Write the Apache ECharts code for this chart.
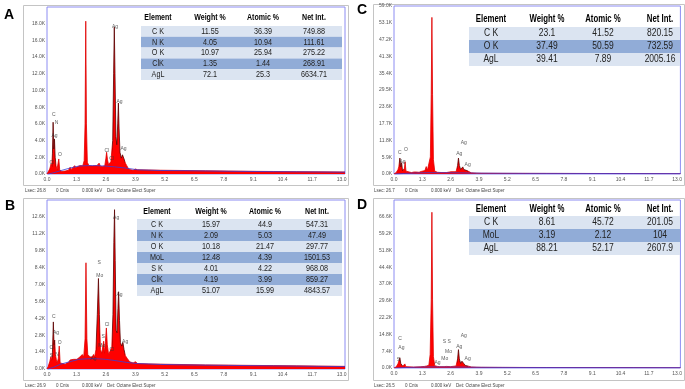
<!DOCTYPE html>
<html>
<head>
<meta charset="utf-8">
<script src="https://cdn.jsdelivr.net/npm/echarts@6/dist/echarts.min.js"></script>
<style>
html,body{margin:0;padding:0;background:#fff;}
#main{width:685px;height:389px;}
</style>
</head>
<body>
<div id="main"></div>
<script>
// EDS spectra, [keV, counts in K]
var spectrumA = [[0,0],[0.05,0.2],[0.12,0.6],[0.18,1.2],[0.21,0.9],[0.24,2.5],[0.27,6.2],[0.30,3.0],[0.33,4.2],[0.36,2.0],[0.40,1.0],[0.44,0.5],[0.48,0.6],[0.52,1.8],[0.56,0.5],[0.65,0.3],[0.8,0.35],[0.95,0.45],[1.02,0.8],[1.07,0.55],[1.15,0.7],[1.22,1.0],[1.28,0.75],[1.36,0.85],[1.44,1.0],[1.5,0.9],[1.58,1.0],[1.64,1.6],[1.68,6.0],[1.71,18.3],[1.74,6.0],[1.78,1.4],[1.85,1.0],[2.0,0.95],[2.1,1.0],[2.2,1.0],[2.3,1.3],[2.36,0.9],[2.45,0.9],[2.55,1.0],[2.6,1.9],[2.63,2.6],[2.67,1.7],[2.72,1.1],[2.78,1.3],[2.82,1.5],[2.86,1.6],[2.9,4.0],[2.94,12.0],[2.97,17.6],[3.0,12.0],[3.04,4.5],[3.08,3.5],[3.12,6.0],[3.15,8.5],[3.18,5.5],[3.22,2.6],[3.28,1.9],[3.33,2.3],[3.36,2.4],[3.4,1.8],[3.46,1.3],[3.52,1.0],[3.6,0.6],[3.7,0.5],[3.8,0.45],[3.9,0.6],[4.0,0.5],[4.5,0.48],[5.0,0.45],[6.0,0.42],[7.0,0.38],[8.0,0.35],[9.0,0.32],[10.0,0.3],[11.0,0.28],[12.0,0.26],[13.15,0.24]];
var bgA = [[0.05,0],[0.3,0.15],[0.6,0.4],[1.0,0.7],[1.4,0.95],[1.8,1.0],[2.2,1.0],[2.6,0.95],[3.0,0.85],[3.5,0.7],[4.0,0.5],[5.0,0.42],[6.0,0.4],[8.0,0.33],[10.0,0.28],[13.15,0.22]];
var peaksA = [[0.3,7.1,'C'],[0.42,6.1,'N'],[0.33,4.6,'Ag'],[0.57,2.3,'O'],[0.22,1.4,'Cl'],[2.64,2.8,'Cl'],[2.85,1.8,'Cl'],[3.0,17.6,'Ag'],[3.2,8.7,'Ag'],[3.38,3.0,'Ag']];

var spectrumB = [[0,0],[0.05,0.2],[0.12,0.6],[0.17,1.0],[0.2,0.7],[0.24,1.4],[0.28,3.9],[0.31,2.0],[0.34,2.4],[0.37,1.2],[0.41,0.8],[0.45,0.5],[0.5,0.9],[0.54,1.9],[0.58,0.5],[0.65,0.35],[0.8,0.4],[0.95,0.55],[1.02,0.75],[1.08,0.6],[1.18,0.8],[1.25,0.95],[1.32,0.8],[1.42,0.95],[1.5,1.1],[1.56,1.2],[1.62,1.0],[1.68,2.5],[1.72,8.8],[1.76,2.5],[1.8,1.2],[1.9,1.0],[2.0,1.0],[2.05,1.2],[2.1,1.0],[2.16,1.6],[2.22,4.5],[2.27,7.5],[2.31,4.5],[2.36,1.6],[2.42,1.3],[2.47,2.0],[2.5,2.3],[2.54,1.3],[2.58,2.3],[2.62,3.4],[2.66,2.0],[2.72,1.2],[2.8,1.3],[2.86,1.8],[2.91,4.5],[2.95,10.5],[2.98,13.2],[3.01,9.0],[3.05,3.2],[3.09,3.0],[3.13,5.0],[3.16,6.4],[3.2,4.0],[3.24,2.2],[3.3,1.9],[3.35,2.2],[3.4,1.6],[3.46,1.1],[3.55,0.85],[3.65,0.6],[3.8,0.5],[3.9,0.6],[4.0,0.45],[4.5,0.42],[5.0,0.4],[6.0,0.37],[7.0,0.34],[8.0,0.32],[9.0,0.3],[10.0,0.28],[11.0,0.26],[12.0,0.24],[13.15,0.22]];
var bgB = [[0.05,0],[0.3,0.15],[0.6,0.4],[1.0,0.6],[1.4,0.8],[1.8,0.85],[2.2,0.85],[2.6,0.8],[3.0,0.7],[3.5,0.55],[4.0,0.45],[5.0,0.38],[6.0,0.34],[8.0,0.3],[10.0,0.26],[13.15,0.2]];
var peaksB = [[0.3,4.3,'C'],[0.4,3.0,'Ag'],[0.56,2.2,'O'],[0.22,1.8,'Cl'],[0.44,1.2,'N'],[0.2,1.1,'S'],[2.05,0.9,'Ag'],[2.3,8.8,'S'],[2.33,7.7,'Mo'],[2.65,3.7,'Cl'],[2.48,2.7,'S'],[2.42,1.9,'Mo'],[2.86,1.6,'Cl'],[3.05,12.5,'Ag'],[3.2,6.2,'Ag'],[3.45,2.3,'Ag']];

var spectrumC = [[0,0],[0.1,0.5],[0.18,1.5],[0.22,2.5],[0.27,5.6],[0.31,2.5],[0.35,4.0],[0.39,1.2],[0.44,0.8],[0.48,2.0],[0.51,4.3],[0.55,1.0],[0.62,0.4],[0.8,0.5],[0.92,0.7],[0.97,1.4],[1.02,0.7],[1.15,0.6],[1.25,0.9],[1.32,0.7],[1.42,1.2],[1.48,2.6],[1.53,1.2],[1.62,1.3],[1.67,6],[1.71,28],[1.74,55],[1.77,28],[1.81,5],[1.87,1.0],[2.0,0.6],[2.2,0.5],[2.4,0.5],[2.62,0.8],[2.7,0.5],[2.85,0.8],[2.92,3.0],[2.96,5.6],[3.0,3.0],[3.06,1.6],[3.12,2.2],[3.16,2.5],[3.2,1.6],[3.28,0.9],[3.35,1.2],[3.42,0.7],[3.55,0.4],[3.8,0.3],[4.0,0.25],[5,0.22],[7,0.2],[9,0.18],[11,0.16],[13.15,0.14]];
var bgC = [[0.05,0],[0.5,0.2],[1.0,0.35],[1.5,0.45],[2.0,0.45],[3.0,0.4],[4.0,0.3],[6.0,0.22],[9,0.18],[13.15,0.14]];
var peaksC = [[0.27,7.4,'C'],[0.55,8.6,'O'],[0.39,4.5,'Ag'],[3.2,11.0,'Ag'],[3.0,7.1,'Ag'],[3.38,3.3,'Ag']];

var spectrumD = [[0,0],[0.1,0.5],[0.18,1.8],[0.22,2.5],[0.27,4.5],[0.31,2.0],[0.35,2.5],[0.4,0.8],[0.46,0.6],[0.5,1.8],[0.54,0.6],[0.62,0.3],[0.9,0.4],[1.2,0.5],[1.4,0.7],[1.5,0.9],[1.6,1.2],[1.66,6],[1.71,30],[1.74,68.6],[1.77,30],[1.81,5],[1.87,1.0],[2.0,0.7],[2.05,1.0],[2.1,0.6],[2.3,0.6],[2.4,0.7],[2.6,0.6],[2.85,0.9],[2.92,4.0],[2.96,8.1],[3.0,4.0],[3.06,2.0],[3.12,3.0],[3.16,3.6],[3.2,2.0],[3.28,1.1],[3.35,1.5],[3.42,0.8],[3.55,0.45],[3.8,0.35],[4.0,0.3],[5,0.26],[7,0.22],[9,0.2],[11,0.18],[13.15,0.15]];
var bgD = [[0.05,0],[0.5,0.2],[1.0,0.35],[1.5,0.45],[2.0,0.45],[3.0,0.4],[4.0,0.3],[6.0,0.22],[9,0.18],[13.15,0.14]];
var peaksD = [[0.28,13.0,'C'],[0.34,9.1,'Ag'],[0.2,3.7,'S'],[2.0,2.2,'Ag'],[2.42,11.5,'S S'],[2.5,7.4,'Mo'],[2.33,4.1,'Mo'],[3.2,14.2,'Ag'],[3.0,9.6,'Ag'],[3.38,4.1,'Ag']];

// peaks drawn with the dark outline (identified lines)
var darkA = [[0.22,0.38],[2.86,3.45]];
var darkB = [[0.22,0.36],[2.18,2.36],[2.86,3.45]];
var darkC = [[0.22,0.4],[2.88,3.4]];
var darkD = [[0.22,0.4],[2.88,3.4]];

// quantification tables
var tableHead = ['Element', 'Weight %', 'Atomic %', 'Net Int.'];
var elemA = ['C K', 'N K', 'O K', 'ClK', 'AgL'];
var weightA = [11.55, 4.05, 10.97, 1.35, 72.1];
var atomicA = [36.39, 10.94, 25.94, 1.44, 25.3];
var netA = [749.88, 111.61, 275.22, 268.91, 6634.71];

var elemB = ['C K', 'N K', 'O K', 'MoL', 'S K', 'ClK', 'AgL'];
var weightB = [15.97, 2.09, 10.18, 12.48, 4.01, 4.19, 51.07];
var atomicB = [44.9, 5.03, 21.47, 4.39, 4.22, 3.99, 15.99];
var netB = [547.31, 47.49, 297.77, 1501.53, 968.08, 859.27, 4843.57];

var elemC = ['C K', 'O K', 'AgL'];
var weightC = [23.1, 37.49, 39.41];
var atomicC = [41.52, 50.59, 7.89];
var netC = [820.15, 732.59, 2005.16];

var elemD = ['C K', 'MoL', 'AgL'];
var weightD = [8.61, 3.19, 88.21];
var atomicD = [45.72, 2.12, 52.17];
var netD = [201.05, 104, 2607.9];

var lsec = ['26.8', '26.9', '26.7', '26.5'];

var dom = document.getElementById('main');
var myChart = echarts.init(dom);

var panels = [
    {letter: 'A', spec: spectrumA, bg: bgA, marks: peaksA, dark: darkA, ymax: 20, yint: 2, showMax: false,
        tbl: [elemA, weightA, atomicA, netA], lsec: lsec[0],
        grid: {left: 47, top: 7, width: 298, height: 167}, box: [23, 5, 325, 180], pos: [4, 8], infoY: 191, infoX: 25,
        t: {x: 141, w: 201, headY: 18, top: 26, rowH: 10.8, cols: [158, 210, 263, 314], hs: 9, bs: 8.5}},
    {letter: 'B', spec: spectrumB, bg: bgB, marks: peaksB, dark: darkB, ymax: 14, yint: 1.4, showMax: false,
        tbl: [elemB, weightB, atomicB, netB], lsec: lsec[1],
        grid: {left: 47, top: 200, width: 298, height: 169}, box: [23, 198, 325, 182], pos: [5, 199], infoY: 386, infoX: 25,
        t: {x: 137, w: 205, headY: 212, top: 219, rowH: 11, cols: [157, 211, 265, 317], hs: 9, bs: 8.5}},
    {letter: 'C', spec: spectrumC, bg: bgC, marks: peaksC, dark: darkC, ymax: 59, yint: 5.9, showMax: true,
        tbl: [elemC, weightC, atomicC, netC], lsec: lsec[2],
        grid: {left: 394, top: 6, width: 287, height: 168}, box: [373, 4, 311, 181], pos: [357, 3], infoY: 191, infoX: 374,
        t: {x: 469, w: 211, headY: 19, top: 27, rowH: 13, cols: [491, 547, 603, 660], hs: 10, bs: 10}},
    {letter: 'D', spec: spectrumD, bg: bgD, marks: peaksD, dark: darkD, ymax: 74, yint: 7.4, showMax: false,
        tbl: [elemD, weightD, atomicD, netD], lsec: lsec[3],
        grid: {left: 394, top: 200, width: 287, height: 168}, box: [373, 198, 311, 182], pos: [357, 198], infoY: 386, infoX: 374,
        t: {x: 469, w: 211, headY: 209, top: 216, rowH: 13, cols: [491, 547, 603, 660], hs: 10, bs: 10}}
];

var FONT = '"Liberation Sans", Arial, sans-serif';
var grids = [], xAxes = [], yAxes = [], series = [], visualMaps = [], graphics = [];

function txt(x, y, s, font, opt) {
    opt = opt || {};
    return {
        type: 'text', x: x, y: y, silent: true, scaleX: opt.sx || 1, z: 100,
        style: {
            text: s, font: font, fill: opt.fill || '#111',
            align: opt.align || 'center', verticalAlign: 'middle',
            textAlign: opt.align || 'center', textVerticalAlign: 'middle'
        }
    };
}

panels.forEach(function (p, i) {
    grids.push({left: p.grid.left, top: p.grid.top, width: p.grid.width, height: p.grid.height,
        show: true, borderColor: '#8c8cf2', borderWidth: 1, backgroundColor: '#fff'});
    xAxes.push({
        type: 'value', gridIndex: i, min: 0, max: 13.15, interval: 1.3,
        axisLine: {show: false}, axisTick: {show: false}, splitLine: {show: false},
        axisLabel: {fontSize: 5, color: '#555', margin: 3, showMaxLabel: false, fontFamily: FONT,
            formatter: function (v) { return v.toFixed(1); }}
    });
    yAxes.push({
        type: 'value', gridIndex: i, min: 0, max: p.ymax, interval: p.yint,
        axisLine: {show: false}, axisTick: {show: false}, splitLine: {show: false},
        axisLabel: {fontSize: 5, color: '#555', margin: 2, showMaxLabel: p.showMax, fontFamily: FONT,
            formatter: function (v) { return v.toFixed(1) + 'K'; }}
    });
    var pieces = p.dark.map(function (d) { return {gte: d[0], lte: d[1], color: '#5a0000'}; });
    visualMaps.push({type: 'piecewise', show: false, dimension: 0, seriesIndex: i * 3,
        pieces: pieces, outOfRange: {color: '#e00000'}});
    series.push({
        type: 'line', xAxisIndex: i, yAxisIndex: i, data: p.spec, showSymbol: false, silent: true,
        lineStyle: {width: 0.8}, areaStyle: {color: '#ff0000', opacity: 1}, z: 2
    });
    series.push({
        type: 'line', xAxisIndex: i, yAxisIndex: i, data: p.bg, showSymbol: false, silent: true,
        lineStyle: {width: 0.8, color: '#3b3bd6'}, itemStyle: {color: '#3b3bd6'}, z: 3
    });
    series.push({
        type: 'scatter', xAxisIndex: i, yAxisIndex: i, data: p.marks, symbolSize: 0, silent: true, z: 4,
        label: {show: true, position: 'inside', fontSize: 5, color: '#333', fontFamily: FONT,
            formatter: function (d) { return d.data[2]; }}
    });

    // outer frame, panel letter, footer
    graphics.push({type: 'rect', silent: true, z: -1, shape: {x: p.box[0] + 0.5, y: p.box[1] + 0.5, width: p.box[2], height: p.box[3]},
        style: {fill: 'none', stroke: '#c4c4c4', lineWidth: 1}});
    graphics.push({type: 'text', x: p.pos[0], y: p.pos[1], silent: true,
        style: {text: p.letter, font: 'bold 14px ' + FONT, fill: '#000'}});
    var info = ['Lsec: ' + p.lsec, '0 Cnts', '0.000 keV', 'Det: Octane Elect Super'];
    var offs = [0, 31, 57, 82];
    info.forEach(function (s, k) {
        graphics.push(txt(p.infoX + offs[k], p.infoY, s, '4.5px ' + FONT, {align: 'left', fill: '#444'}));
    });

    // table
    var t = p.t;
    tableHead.forEach(function (h, c) {
        graphics.push(txt(t.cols[c], t.headY, h, 'bold ' + t.hs + 'px ' + FONT, {sx: 0.78, fill: '#000'}));
    });
    p.tbl[0].forEach(function (e, r) {
        graphics.push({type: 'rect', silent: true, z: 99,
            shape: {x: t.x, y: t.top + r * t.rowH, width: t.w, height: t.rowH},
            style: {fill: r % 2 ? '#91acd7' : '#dbe4f1'}});
        var cy = t.top + (r + 0.5) * t.rowH;
        var vals = [e, p.tbl[1][r], p.tbl[2][r], p.tbl[3][r]];
        vals.forEach(function (v, c) {
            graphics.push(txt(t.cols[c], cy, String(v), t.bs + 'px ' + FONT, {sx: 0.85, fill: '#222'}));
        });
    });
});

var option = {
    animation: false,
    backgroundColor: '#fff',
    grid: grids,
    xAxis: xAxes,
    yAxis: yAxes,
    visualMap: visualMaps,
    series: series,
    graphic: {elements: graphics}
};
myChart.setOption(option);
</script>
</body>
</html>
